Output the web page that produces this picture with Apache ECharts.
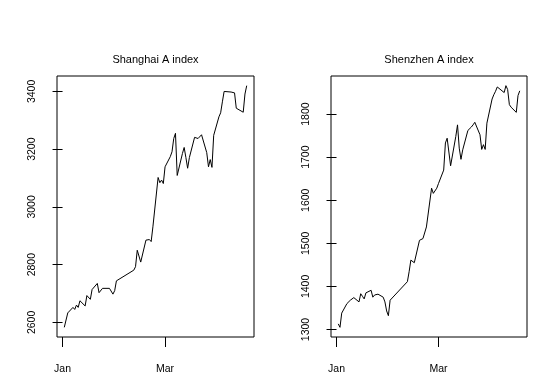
<!DOCTYPE html>
<html lang="en">
<head>
    <meta charset="UTF-8">
    <title>A index</title>
    <script src="https://cdn.jsdelivr.net/npm/echarts@6/dist/echarts.min.js"></script>
    <style>
        html, body { margin: 0; padding: 0; background: #fff; }
        #main { width: 547px; height: 376px; }
    </style>
</head>
<body>
    <div id="main"></div>
    <script>
        var dates = [
            '2019-01-02','2019-01-03','2019-01-04','2019-01-07','2019-01-08','2019-01-09','2019-01-10','2019-01-11',
            '2019-01-14','2019-01-15','2019-01-16','2019-01-17','2019-01-18','2019-01-21','2019-01-22','2019-01-23',
            '2019-01-24','2019-01-25','2019-01-28','2019-01-29','2019-01-30','2019-01-31',
            '2019-02-01','2019-02-11','2019-02-12','2019-02-13','2019-02-14','2019-02-15','2019-02-18','2019-02-19',
            '2019-02-20','2019-02-21','2019-02-22','2019-02-25','2019-02-26','2019-02-27','2019-02-28',
            '2019-03-01','2019-03-04','2019-03-05','2019-03-06','2019-03-07','2019-03-08','2019-03-11','2019-03-12',
            '2019-03-13','2019-03-14','2019-03-15','2019-03-18','2019-03-19','2019-03-20','2019-03-21','2019-03-22',
            '2019-03-25','2019-03-26','2019-03-27','2019-03-28','2019-03-29',
            '2019-04-01','2019-04-02','2019-04-03','2019-04-04','2019-04-08','2019-04-09','2019-04-10','2019-04-11',
            '2019-04-12','2019-04-15','2019-04-16','2019-04-17'
        ];
        var shanghai = [
            2583, 2583, 2633, 2652, 2645, 2660, 2652, 2675, 2657, 2693, 2687, 2680, 2714, 2735, 2703, 2705,
            2718, 2724, 2718, 2712, 2698, 2710,
            2744, 2781, 2793, 2850, 2850, 2809, 2885, 2887, 2887, 2880, 2931, 3102, 3084, 3093, 3081,
            3139, 3174, 3191, 3237, 3255, 3109, 3185, 3206, 3171, 3134, 3171, 3241, 3236, 3237, 3243, 3250,
            3188, 3139, 3164, 3137, 3248,
            3312, 3326, 3364, 3400, 3398, 3395, 3395, 3342, 3338, 3328, 3391, 3420
        ];
        var shenzhen = [
            1313, 1305, 1338, 1360, 1362, 1368, 1371, 1374, 1364, 1383, 1377, 1371, 1385, 1391, 1375, 1380,
            1382, 1382, 1375, 1364, 1343, 1332,
            1368, 1411, 1434, 1461, 1462, 1455, 1507, 1511, 1511, 1511, 1538, 1628, 1616, 1612, 1628,
            1639, 1670, 1733, 1744, 1740, 1680, 1748, 1775, 1721, 1695, 1717, 1762, 1762, 1770, 1775, 1781,
            1752, 1718, 1729, 1718, 1779,
            1835, 1845, 1853, 1863, 1850, 1866, 1857, 1822, 1816, 1804, 1843, 1854
        ];
        var xTickDates = ['2019-01-01', '2019-03-01'];
        var xTickLabels = ['Jan', 'Mar'];
        var shTicks = [2600, 2800, 3000, 3200, 3400];
        var szTicks = [1300, 1400, 1500, 1600, 1700, 1800];

        // day number counted from Jan 1
        function dayNum(s) {
            return (Date.parse(s) - Date.parse('2019-01-01')) / 86400000;
        }
        // R style range: data range widened 4% on each side
        function padRange(arr) {
            var lo = Math.min.apply(null, arr), hi = Math.max.apply(null, arr);
            var p = (hi - lo) * 0.04;
            return [lo - p, hi + p];
        }

        var days = dates.map(dayNum);
        var xr = padRange(days);
        var xTicks = xTickDates.map(dayNum);
        var font = 'Liberation Sans, Arial, sans-serif';

        function xAxisOpt(idx) {
            return {
                gridIndex: idx, type: 'value', min: xr[0], max: xr[1],
                axisLine: { show: false },
                splitLine: { show: false },
                axisTick: { show: true, length: 10, customValues: xTicks, lineStyle: { color: '#000' } },
                axisLabel: {
                    customValues: xTicks, margin: 27, color: '#000', fontSize: 10.5, fontFamily: font,
                    formatter: function (v) { return xTickLabels[xTicks.indexOf(v)]; }
                }
            };
        }
        function yAxisOpt(idx, vals, ticks) {
            var r = padRange(vals);
            return {
                gridIndex: idx, type: 'value', min: r[0], max: r[1],
                axisLine: { show: false },
                splitLine: { show: false },
                axisTick: { show: true, length: 10, customValues: ticks, lineStyle: { color: '#000' } },
                axisLabel: {
                    customValues: ticks, rotate: 90, margin: 19, color: '#000', fontSize: 10.5, fontFamily: font,
                    formatter: function (v) { return String(v); }
                }
            };
        }
        function lineSeries(idx, vals) {
            return {
                type: 'line', xAxisIndex: idx, yAxisIndex: idx,
                data: days.map(function (d, i) { return [d, vals[i]]; }),
                showSymbol: false,
                lineStyle: { color: '#000', width: 1 }
            };
        }

        var mychart = echarts.init(document.getElementById('main'));
        var option = {
            animation: false,
            backgroundColor: '#fff',
            title: [
                { text: 'Shanghai A index', left: 150.5, top: 54.5, textAlign: 'center', textVerticalAlign: 'middle',
                  textStyle: { fontSize: 11, fontWeight: 'normal', color: '#000', fontFamily: font } },
                { text: 'Shenzhen A index', left: 424, top: 54.5, textAlign: 'center', textVerticalAlign: 'middle',
                  textStyle: { fontSize: 11, fontWeight: 'normal', color: '#000', fontFamily: font } }
            ],
            grid: [
                { left: 57, top: 76, width: 197, height: 261, show: true, borderColor: '#000', borderWidth: 1 },
                { left: 331, top: 76, width: 196, height: 261, show: true, borderColor: '#000', borderWidth: 1 }
            ],
            xAxis: [xAxisOpt(0), xAxisOpt(1)],
            yAxis: [yAxisOpt(0, shanghai, shTicks), yAxisOpt(1, shenzhen, szTicks)],
            series: [lineSeries(0, shanghai), lineSeries(1, shenzhen)]
        };
        mychart.setOption(option);
    </script>
</body>
</html>
